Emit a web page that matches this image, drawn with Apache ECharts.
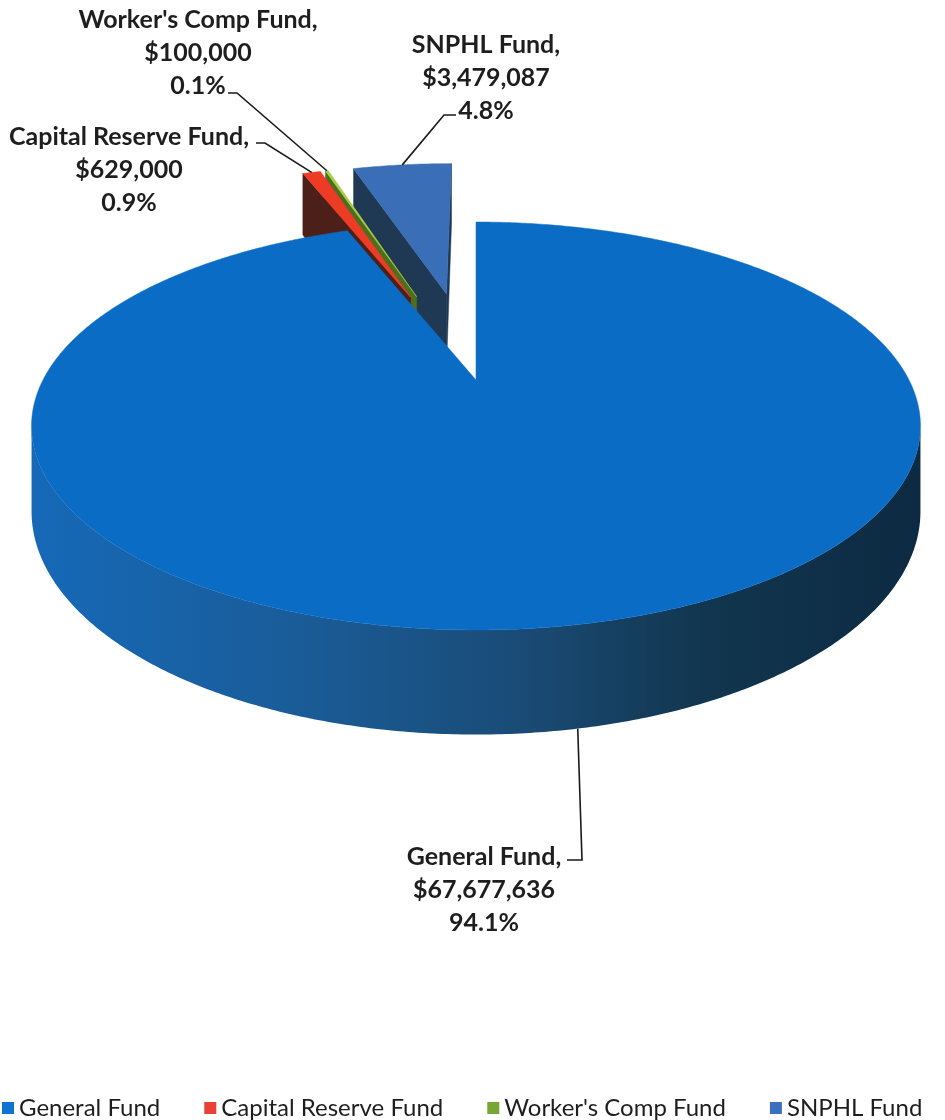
<!DOCTYPE html>
<html>
<head>
<meta charset="utf-8">
<script src="https://cdn.jsdelivr.net/npm/echarts@6/dist/echarts.min.js"></script>
<style>
html,body{margin:0;padding:0;background:#fff;}
#chart{width:945px;height:1120px;}
</style>
</head>
<body>
<div id="chart"></div>
<script>
// ---- data ----
const fundNames = ['General Fund', 'Capital Reserve Fund', "Worker's Comp Fund", 'SNPHL Fund'];
const fundValues = [67677636, 629000, 100000, 3479087];

// ---- style / layout ----
const topColors = ['#0b6cc5', '#ee3b25', '#a6cf45', '#3a6fb8'];
const faceColors = ['#133f66', '#4d1f19', '#4f6d1f', '#1f3854'];
const legendColors = ['#0e76d0', '#ea4038', '#78a634', '#3d6fc0'];
const explodeDist = [0, 0.5, 0.5, 0.5];
const drawOrder = [5, 4, 3, 2];
const labelLayout = [
  { x: 484, y: 857, elbow: [[582, 860], [567, 860]] },
  { x: 129, y: 137, elbow: [[265, 143], [256, 143]] },
  { x: 198, y: 20, elbow: [[237, 93], [228, 93]] },
  { x: 486, y: 45, elbow: [[444, 115], [456, 115]] }
];
const P = { cx: 476, cy: 380, a: 433, b: 193.6, p: 0.2255, t: 81 };
const FONT = 'bold 25px Lato';
const LINE_H = 33;

function proj(u, v, h) {
  const den = 1 - P.p * v;
  return [P.cx + P.a * u / den, P.cy + (P.b * v + h * P.t) / den];
}
function area(pts) {
  let s = 0;
  for (let i = 0; i < pts.length; i++) {
    const a = pts[i], b = pts[(i + 1) % pts.length];
    s += a[0] * b[1] - b[0] * a[1];
  }
  return s / 2;
}
function fmt(n) { return n.toString().replace(/\B(?=(\d{3})+(?!\d))/g, ','); }

const total = fundValues.reduce((s, v) => s + v, 0);

function makeRender(i) {
  return function (params, api) {
    const val = api.value(0);
    let before = 0;
    for (let k = 0; k < i; k++) before += fundValues[k];
    const s = before / total * Math.PI * 2;
    const e = s + val / total * Math.PI * 2;
    const mid = (s + e) / 2;
    const d = explodeDist[i];
    const ou = d * Math.sin(mid), ov = -d * Math.cos(mid);
    const pt = (th, r, h) => proj(ou + r * Math.sin(th), ov - r * Math.cos(th), h);
    const n = Math.max(2, Math.ceil((e - s) / (Math.PI / 360)));
    const children = [];
    const wallFill = i === 0
      ? new echarts.graphic.LinearGradient(30, 0, 925, 0, [
          { offset: 0, color: '#1669b8' },
          { offset: 0.3, color: '#1a5c98' },
          { offset: 0.55, color: '#1a4b76' },
          { offset: 0.75, color: '#12364f' },
          { offset: 1, color: '#0c2a42' }
        ], true)
      : faceColors[i];
    // outer wall visible runs
    let run = null;
    const runs = [];
    for (let k = 0; k < n; k++) {
      const t1 = s + (e - s) * k / n, t2 = s + (e - s) * (k + 1) / n;
      const q = [pt(t1, 1, 0), pt(t2, 1, 0), pt(t2, 1, 1), pt(t1, 1, 1)];
      if (area(q) < 0) {
        if (!run) { run = [t1]; runs.push(run); }
        run.push(t2);
      } else run = null;
    }
    runs.forEach(r => {
      const pts = r.map(t => pt(t, 1, 0)).concat(r.slice().reverse().map(t => pt(t, 1, 1)));
      children.push({ type: 'polygon', shape: { points: pts },
        style: { fill: wallFill, stroke: i === 0 ? null : faceColors[i], lineWidth: 0.5 } });
    });
    // radial faces
    const sf = [pt(0, 0, 0), pt(s, 1, 0), pt(s, 1, 1), pt(0, 0, 1)];
    const ef = [pt(e, 1, 0), pt(0, 0, 0), pt(0, 0, 1), pt(e, 1, 1)];
    [sf, ef].forEach(f => {
      if (area(f) < -1) {
        children.push({ type: 'polygon', shape: { points: f },
          style: { fill: faceColors[i], stroke: faceColors[i], lineWidth: 0.5 } });
      }
    });
    // top face
    const topPts = [pt(0, 0, 0)];
    for (let k = 0; k <= n; k++) topPts.push(pt(s + (e - s) * k / n, 1, 0));
    children.push({ type: 'polygon', shape: { points: topPts },
      style: { fill: topColors[i], stroke: topColors[i], lineWidth: 0.5 } });
    // leader
    const front = Math.cos(mid) < 0;
    const anchor = pt(mid, 1, front ? 1 : 0);
    const L = labelLayout[i];
    children.push({ type: 'polyline', z2: 10, shape: { points: [anchor].concat(L.elbow) },
      style: { stroke: '#1a1a1a', lineWidth: 1.6, fill: null } });
    const lines = [fundNames[i] + ',', '$' + fmt(val), (val / total * 100).toFixed(1) + '%'];
    lines.forEach((txt, k) => {
      children.push({ type: 'text', z2: 10, style: { text: txt, x: L.x, y: L.y + k * LINE_H,
        textAlign: 'center', textVerticalAlign: 'middle', font: FONT, fill: '#1e1e1e' } });
    });
    return { type: 'group', children: children };
  };
}

const chart = echarts.init(document.getElementById('chart'), null, { renderer: 'canvas' });
chart.setOption({
  animation: false,
  backgroundColor: '#ffffff',
  legend: {
    data: fundNames,
    left: 2,
    top: 1096,
    width: 1000,
    padding: 0,
    icon: 'rect',
    itemWidth: 12,
    itemHeight: 12,
    itemGap: 44,
    selectedMode: false,
    textStyle: { fontFamily: 'Lato', fontSize: 24, color: '#1e1e1e' }
  },
  series: fundNames.map((name, i) => ({
    type: 'custom',
    name: name,
    coordinateSystem: 'none',
    z: drawOrder[i],
    silent: true,
    itemStyle: { color: legendColors[i] },
    data: [[fundValues[i]]],
    renderItem: makeRender(i)
  }))
});
</script>
</body>
</html>
